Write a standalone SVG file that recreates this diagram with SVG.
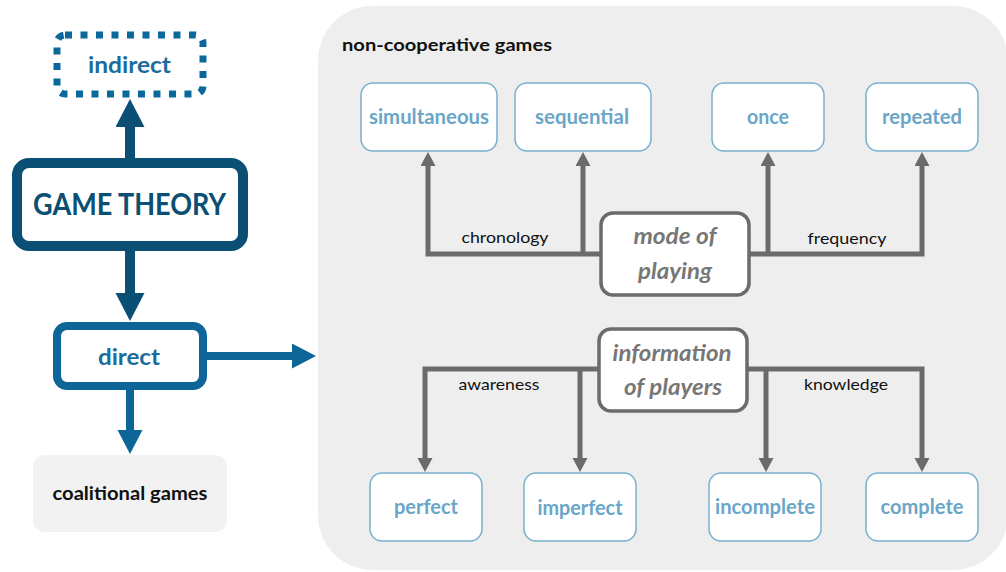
<svg xmlns="http://www.w3.org/2000/svg" width="1006" height="572" viewBox="0 0 1006 572">
<style>
text{font-family:Lato,"Open Sans","Liberation Sans",sans-serif;}
.leaf rect{fill:#ffffff;stroke:#78b0d0;stroke-width:1.5;}
.leaf text{fill:#6aa6c8;font-weight:bold;font-size:20px;text-anchor:middle;}
.hub rect{fill:#ffffff;stroke:#6b6b6b;stroke-width:3.5;}
.hub text{fill:#777777;font-weight:bold;font-style:italic;font-size:22px;text-anchor:middle;}
.lbl{fill:#111111;font-size:16px;text-anchor:middle;}
.gray{fill:none;stroke:#6b6b6b;stroke-width:5;}
</style>
<defs>
<marker id="aGray" markerUnits="userSpaceOnUse" markerWidth="16" markerHeight="16" refX="0" refY="7.5" orient="auto">
<path d="M0,0 L14,7.5 L0,15 z" fill="#6b6b6b"/>
</marker>
<marker id="aDark" markerUnits="userSpaceOnUse" markerWidth="30" markerHeight="30" refX="0" refY="14.5" orient="auto">
<path d="M0,0 L28,14.5 L0,29 z" fill="#0b4f74"/>
</marker>
<marker id="aBlue" markerUnits="userSpaceOnUse" markerWidth="26" markerHeight="26" refX="0" refY="12.5" orient="auto">
<path d="M0,0 L24,12.5 L0,25 z" fill="#0e6698"/>
</marker>
</defs>

<rect x="318" y="6" width="690" height="564" rx="55" fill="#eeeeee"/>
<text x="342" y="51" font-size="16.5" font-weight="bold" fill="#111111" textLength="210" lengthAdjust="spacingAndGlyphs">non-cooperative games</text>

<g id="connectors">
<path d="M130,158 V127" stroke="#0b4f74" stroke-width="10" fill="none" marker-end="url(#aDark)"/>
<path d="M130,251 V293" stroke="#0b4f74" stroke-width="10" fill="none" marker-end="url(#aDark)"/>
<path d="M207,356 H292" stroke="#0e6698" stroke-width="8" fill="none" marker-end="url(#aBlue)"/>
<path d="M130,390 V430" stroke="#0e6698" stroke-width="8" fill="none" marker-end="url(#aBlue)"/>

<path class="gray" d="M600,254 H428 V166" marker-end="url(#aGray)"/>
<path class="gray" d="M583,254 V166" marker-end="url(#aGray)"/>
<path class="gray" d="M749,254 H922 V166" marker-end="url(#aGray)"/>
<path class="gray" d="M768,254 V166" marker-end="url(#aGray)"/>

<path class="gray" d="M598,369 H425 V458" marker-end="url(#aGray)"/>
<path class="gray" d="M580,369 V458" marker-end="url(#aGray)"/>
<path class="gray" d="M747,369 H922 V458" marker-end="url(#aGray)"/>
<path class="gray" d="M766,369 V458" marker-end="url(#aGray)"/>

<text class="lbl" x="505" y="243" textLength="87" lengthAdjust="spacingAndGlyphs">chronology</text>
<text class="lbl" x="847" y="244" textLength="79" lengthAdjust="spacingAndGlyphs">frequency</text>
<text class="lbl" x="499" y="390" textLength="81" lengthAdjust="spacingAndGlyphs">awareness</text>
<text class="lbl" x="846" y="390" textLength="84" lengthAdjust="spacingAndGlyphs">knowledge</text>
</g>

<g id="indirect">
<rect x="57" y="35" width="146" height="59" rx="8" fill="#ffffff" stroke="#0a689c" stroke-width="7" stroke-dasharray="7 8.5"/>
<text x="129.5" y="73" font-size="23" font-weight="bold" fill="#1a6c9c" text-anchor="middle" textLength="83" lengthAdjust="spacingAndGlyphs">indirect</text>
</g>

<g id="game-theory">
<rect x="17" y="163" width="226" height="83" rx="12" fill="#ffffff" stroke="#0b4f74" stroke-width="10"/>
<text x="129.5" y="215" font-size="30" font-weight="bold" fill="#0b4f74" text-anchor="middle" textLength="193" lengthAdjust="spacingAndGlyphs">GAME THEORY</text>
</g>

<g id="direct">
<rect x="57" y="326" width="146" height="60" rx="10" fill="#ffffff" stroke="#0e6698" stroke-width="8"/>
<text x="129" y="365" font-size="23" font-weight="bold" fill="#1a6c9c" text-anchor="middle" textLength="62" lengthAdjust="spacingAndGlyphs">direct</text>
</g>

<g id="coalitional">
<rect x="33" y="455" width="194" height="77" rx="12" fill="#f2f2f2"/>
<text x="130" y="500" font-size="18" font-weight="bold" fill="#111111" text-anchor="middle" textLength="155" lengthAdjust="spacingAndGlyphs">coalitional games</text>
</g>

<g id="simultaneous" class="leaf">
<rect x="361" y="83" width="136" height="68" rx="12"/>
<text x="429" y="124" textLength="120" lengthAdjust="spacingAndGlyphs">simultaneous</text>
</g>
<g id="sequential" class="leaf">
<rect x="515" y="83" width="136" height="68" rx="12"/>
<text x="582" y="124" textLength="94" lengthAdjust="spacingAndGlyphs">sequential</text>
</g>
<g id="once" class="leaf">
<rect x="712" y="83" width="112" height="68" rx="12"/>
<text x="768" y="124" textLength="42" lengthAdjust="spacingAndGlyphs">once</text>
</g>
<g id="repeated" class="leaf">
<rect x="866" y="83" width="112" height="68" rx="12"/>
<text x="922" y="124" textLength="80" lengthAdjust="spacingAndGlyphs">repeated</text>
</g>

<g id="mode-of-playing" class="hub">
<rect x="601" y="213" width="148" height="82" rx="12"/>
<text x="675" y="244" textLength="83" lengthAdjust="spacingAndGlyphs">mode of</text>
<text x="675" y="279" textLength="74" lengthAdjust="spacingAndGlyphs">playing</text>
</g>

<g id="information-of-players" class="hub">
<rect x="599" y="329" width="148" height="82" rx="12"/>
<text x="672" y="361" textLength="119" lengthAdjust="spacingAndGlyphs">information</text>
<text x="673" y="395" textLength="98" lengthAdjust="spacingAndGlyphs">of players</text>
</g>

<g id="perfect" class="leaf">
<rect x="370" y="473" width="112" height="68" rx="12"/>
<text x="426" y="514" textLength="64" lengthAdjust="spacingAndGlyphs">perfect</text>
</g>
<g id="imperfect" class="leaf">
<rect x="524" y="473" width="112" height="68" rx="12"/>
<text x="580" y="515" textLength="85" lengthAdjust="spacingAndGlyphs">imperfect</text>
</g>
<g id="incomplete" class="leaf">
<rect x="709" y="473" width="112" height="68" rx="12"/>
<text x="765" y="514" textLength="100" lengthAdjust="spacingAndGlyphs">incomplete</text>
</g>
<g id="complete" class="leaf">
<rect x="866" y="473" width="112" height="68" rx="12"/>
<text x="922" y="514" textLength="83" lengthAdjust="spacingAndGlyphs">complete</text>
</g>
</svg>
